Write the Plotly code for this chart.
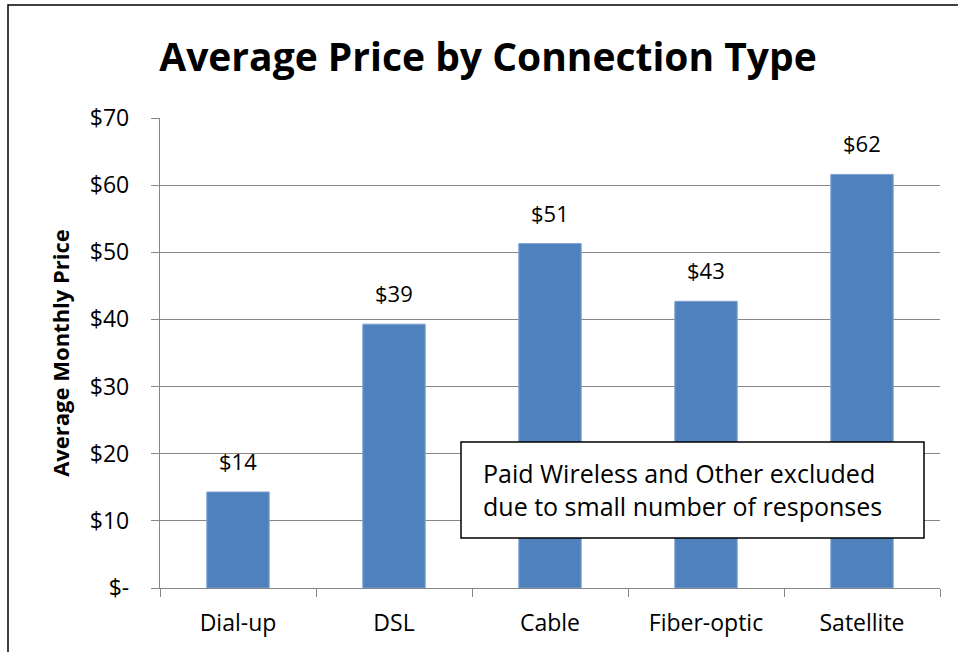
import plotly.graph_objects as go

categories = ["Dial-up", "DSL", "Cable", "Fiber-optic", "Satellite"]
prices = [14.3, 39.3, 51.3, 42.7, 61.6]
price_labels = ["$14", "$39", "$51", "$43", "$62"]
ytick_vals = [0, 10, 20, 30, 40, 50, 60, 70]
ytick_text = ["$-", "$10", "$20", "$30", "$40", "$50", "$60", "$70"]
note_text = "Paid Wireless and Other excluded<br>due to small number of responses"

FONT = "Open Sans"
GRID = "#868686"
W, H = 958, 652
L, R, T, B = 160, 940, 118, 588  # plot area in pixels


def px(x):
    return (x - L) / (R - L)


def py(y):
    return (B - y) / (B - T)


fig = go.Figure()
fig.add_trace(go.Bar(
    x=categories, y=prices,
    marker=dict(color="#4F81BD", line=dict(color="#7FA3D3", width=1)),
    hoverinfo="x+y",
))

for c, v, t in zip(categories, prices, price_labels):
    fig.add_annotation(x=c, y=v, text=t, showarrow=False, yanchor="bottom",
                       yshift=14, font=dict(family=FONT, size=22, color="#000"))

# note box
fig.add_shape(type="rect", xref="paper", yref="paper",
              x0=px(461), x1=px(924), y0=py(538), y1=py(442),
              fillcolor="white", line=dict(color="#000", width=1.5), layer="above")
fig.add_annotation(
    xref="paper", yref="paper", x=px(481), y=py(489),
    xanchor="left", yanchor="middle", text=note_text,
    showarrow=False, align="left",
    font=dict(family=FONT, size=25, color="#000"),
)

# outer chart frame
fig.add_shape(type="rect", xref="paper", yref="paper",
              x0=px(8), x1=1.5, y0=-0.5, y1=py(5),
              line=dict(color="#000", width=1.5), layer="below")

fig.update_layout(
    width=W, height=H,
    margin=dict(l=L, r=W - R, t=T, b=H - B),
    paper_bgcolor="white", plot_bgcolor="white",
    bargap=0.6,
    showlegend=False,
    title=dict(text="<b>Average Price by Connection Type</b>",
               x=488 / W, xanchor="center", y=1 - 57 / H, yanchor="middle",
               font=dict(family=FONT, size=39, color="#000")),
    font=dict(family=FONT, color="#000"),
)
fig.update_yaxes(
    range=[0, 70], tickvals=ytick_vals, ticktext=ytick_text,
    showgrid=True, gridcolor=GRID, gridwidth=1.3,
    showline=True, linecolor=GRID, linewidth=1.3,
    ticks="outside", ticklen=8, tickcolor=GRID, tickwidth=1.3,
    ticklabelstandoff=17,
    tickfont=dict(family=FONT, size=23, color="#000"),
    title=dict(text="<b>Average Monthly Price</b>", standoff=14,
               font=dict(family=FONT, size=22, color="#000")),
    zeroline=False, fixedrange=True,
)
fig.update_xaxes(
    showline=True, linecolor=GRID, linewidth=1.3,
    ticks="outside", ticklen=8, tickcolor=GRID, tickwidth=1.3,
    tickson="boundaries", ticklabelstandoff=14,
    tickfont=dict(family=FONT, size=23, color="#000"),
    showgrid=False, fixedrange=True,
)

fig.write_html("out.html", config={"displayModeBar": False},
               post_script="document.body.style.margin='0px';")
